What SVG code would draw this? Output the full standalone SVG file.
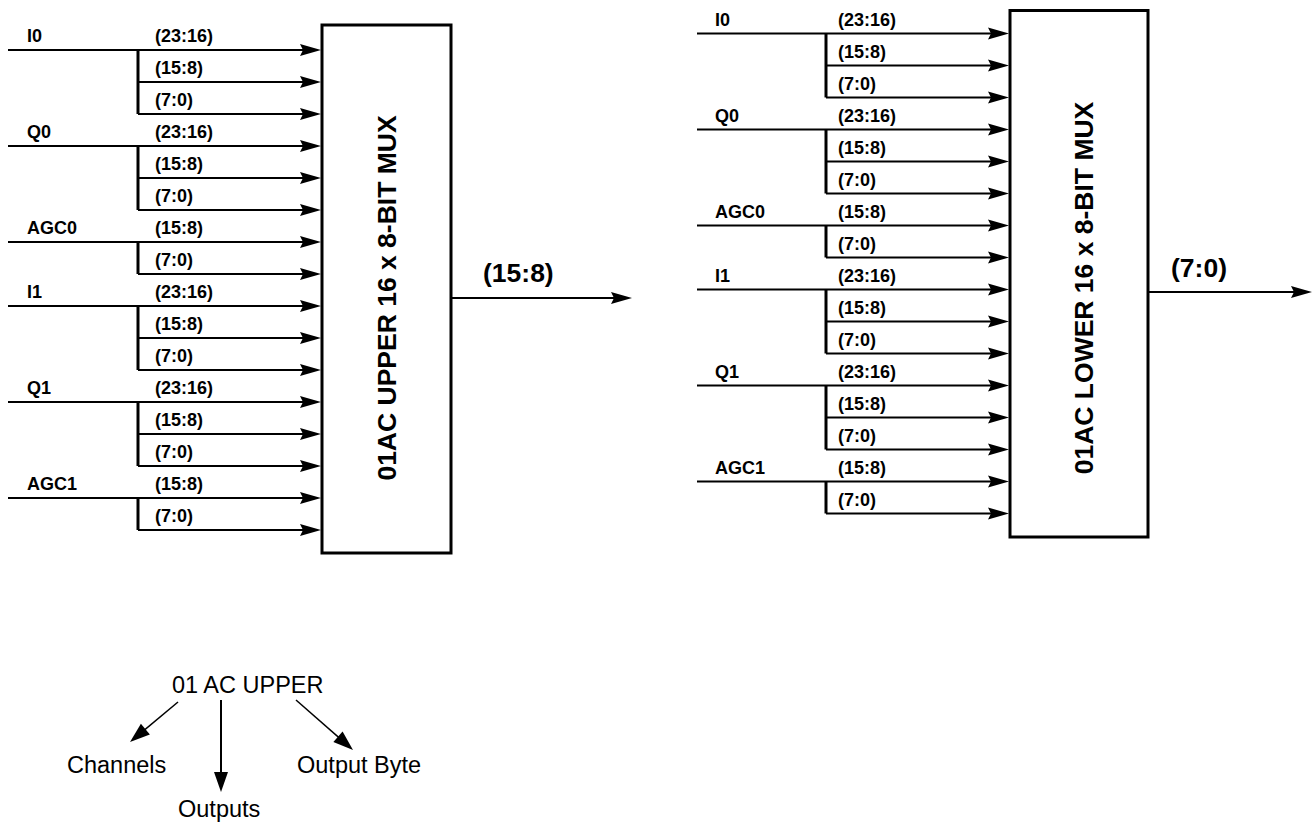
<svg xmlns="http://www.w3.org/2000/svg" width="1313" height="822" viewBox="0 0 1313 822">
<style>
.box{fill:#fff;stroke:#000;stroke-width:3}
.w{stroke:#000;stroke-width:2;fill:none}
.br{stroke:#000;stroke-width:3;fill:none}
.ln{stroke:#000;stroke-width:1.5;fill:none}
.in{marker-end:url(#ah)}
.lb{font-family:"Liberation Sans",Arial,sans-serif;font-weight:bold;font-size:18px;fill:#000}
.big{font-family:"Liberation Sans",Arial,sans-serif;font-weight:bold;font-size:26.5px;fill:#000}
.reg{font-family:"Liberation Sans",Arial,sans-serif;font-size:23.5px;fill:#000}
</style>
<defs>
<marker id="ah" markerUnits="userSpaceOnUse" markerWidth="21" markerHeight="12" refX="11" refY="6" orient="auto" overflow="visible">
<path d="M0,0 L21,6 L0,12 L3,6 z" fill="#000"/>
</marker>
<marker id="ah2" markerUnits="userSpaceOnUse" markerWidth="20" markerHeight="14" refX="10" refY="7" orient="auto" overflow="visible">
<path d="M0,0 L20,7 L0,14 z" fill="#000"/>
</marker>
</defs>
<rect width="1313" height="822" fill="#fff"/>

<g id="connectors">
<g id="upper-inputs">
<path class="w in" d="M8,50 H311"/><path class="br" d="M138,50 V114"/><path class="w in" d="M138,82 H311"/><path class="w in" d="M138,114 H311"/>
<path class="w in" d="M8,146 H311"/><path class="br" d="M138,146 V210"/><path class="w in" d="M138,178 H311"/><path class="w in" d="M138,210 H311"/>
<path class="w in" d="M8,242 H311"/><path class="br" d="M138,242 V274"/><path class="w in" d="M138,274 H311"/>
<path class="w in" d="M8,306 H311"/><path class="br" d="M138,306 V370"/><path class="w in" d="M138,338 H311"/><path class="w in" d="M138,370 H311"/>
<path class="w in" d="M8,402 H311"/><path class="br" d="M138,402 V466"/><path class="w in" d="M138,434 H311"/><path class="w in" d="M138,466 H311"/>
<path class="w in" d="M8,498 H311"/><path class="br" d="M138,498 V530"/><path class="w in" d="M138,530 H311"/>
</g>
<g id="upper-labels">
<text class="lb" x="27" y="42">I0</text><text class="lb" x="155" y="42">(23:16)</text><text class="lb" x="155" y="74">(15:8)</text><text class="lb" x="155" y="106">(7:0)</text>
<text class="lb" x="27" y="138">Q0</text><text class="lb" x="155" y="138">(23:16)</text><text class="lb" x="155" y="170">(15:8)</text><text class="lb" x="155" y="202">(7:0)</text>
<text class="lb" x="27" y="234">AGC0</text><text class="lb" x="155" y="234">(15:8)</text><text class="lb" x="155" y="266">(7:0)</text>
<text class="lb" x="27" y="298">I1</text><text class="lb" x="155" y="298">(23:16)</text><text class="lb" x="155" y="330">(15:8)</text><text class="lb" x="155" y="362">(7:0)</text>
<text class="lb" x="27" y="394">Q1</text><text class="lb" x="155" y="394">(23:16)</text><text class="lb" x="155" y="426">(15:8)</text><text class="lb" x="155" y="458">(7:0)</text>
<text class="lb" x="27" y="490">AGC1</text><text class="lb" x="155" y="490">(15:8)</text><text class="lb" x="155" y="522">(7:0)</text>
</g>
<g id="lower-inputs">
<path class="w in" d="M697,33.5 H999"/><path class="br" d="M826,33.5 V97.5"/><path class="w in" d="M826,65.5 H999"/><path class="w in" d="M826,97.5 H999"/>
<path class="w in" d="M697,129.5 H999"/><path class="br" d="M826,129.5 V193.5"/><path class="w in" d="M826,161.5 H999"/><path class="w in" d="M826,193.5 H999"/>
<path class="w in" d="M697,225.5 H999"/><path class="br" d="M826,225.5 V257.5"/><path class="w in" d="M826,257.5 H999"/>
<path class="w in" d="M697,289.5 H999"/><path class="br" d="M826,289.5 V353.5"/><path class="w in" d="M826,321.5 H999"/><path class="w in" d="M826,353.5 H999"/>
<path class="w in" d="M697,385.5 H999"/><path class="br" d="M826,385.5 V449.5"/><path class="w in" d="M826,417.5 H999"/><path class="w in" d="M826,449.5 H999"/>
<path class="w in" d="M697,481.5 H999"/><path class="br" d="M826,481.5 V513.5"/><path class="w in" d="M826,513.5 H999"/>
</g>
<g id="lower-labels">
<text class="lb" x="715" y="25.5">I0</text><text class="lb" x="838" y="25.5">(23:16)</text><text class="lb" x="838" y="57.5">(15:8)</text><text class="lb" x="838" y="89.5">(7:0)</text>
<text class="lb" x="715" y="121.5">Q0</text><text class="lb" x="838" y="121.5">(23:16)</text><text class="lb" x="838" y="153.5">(15:8)</text><text class="lb" x="838" y="185.5">(7:0)</text>
<text class="lb" x="715" y="217.5">AGC0</text><text class="lb" x="838" y="217.5">(15:8)</text><text class="lb" x="838" y="249.5">(7:0)</text>
<text class="lb" x="715" y="281.5">I1</text><text class="lb" x="838" y="281.5">(23:16)</text><text class="lb" x="838" y="313.5">(15:8)</text><text class="lb" x="838" y="345.5">(7:0)</text>
<text class="lb" x="715" y="377.5">Q1</text><text class="lb" x="838" y="377.5">(23:16)</text><text class="lb" x="838" y="409.5">(15:8)</text><text class="lb" x="838" y="441.5">(7:0)</text>
<text class="lb" x="715" y="473.5">AGC1</text><text class="lb" x="838" y="473.5">(15:8)</text><text class="lb" x="838" y="505.5">(7:0)</text>
</g>
<g id="outputs">
<path class="w in" d="M451,298 H622"/>
<text class="big" x="483" y="282">(15:8)</text>
<path class="w in" d="M1148,292 H1302"/>
<text class="big" x="1171" y="277">(7:0)</text>
</g>
<g id="legend-arrows">
<path class="ln" d="M178,702 L137.7,735.6" marker-end="url(#ah2)"/>
<path class="w" d="M221,700 V782" marker-end="url(#ah2)"/>
<path class="ln" d="M296,700 L345.5,743.4" marker-end="url(#ah2)"/>
</g>
</g>

<g id="mux-upper">
<rect class="box" x="322" y="25" width="129" height="528"/>
<text class="big" transform="translate(396,298) rotate(-90)" text-anchor="middle">01AC UPPER 16 x 8-BIT MUX</text>
</g>

<g id="mux-lower">
<rect class="box" x="1010" y="10.5" width="138" height="526.5"/>
<text class="big" transform="translate(1093,288) rotate(-90)" text-anchor="middle">01AC LOWER 16 x 8-BIT MUX</text>
</g>

<g id="legend-title"><text class="reg" x="172" y="693">01 AC UPPER</text></g>
<g id="legend-channels"><text class="reg" x="67" y="773">Channels</text></g>
<g id="legend-outputs"><text class="reg" x="178" y="817">Outputs</text></g>
<g id="legend-outputbyte"><text class="reg" x="297" y="773">Output Byte</text></g>
</svg>
